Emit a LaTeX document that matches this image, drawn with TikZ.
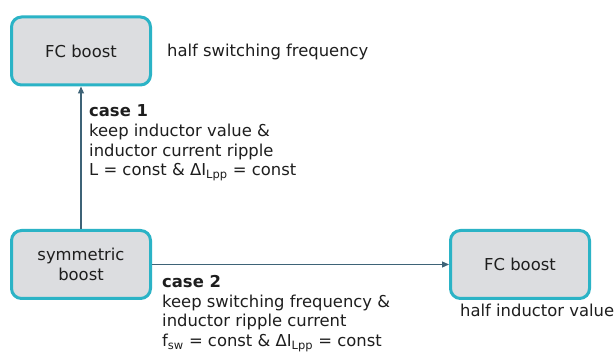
\documentclass[tikz,border=0pt]{standalone}
\usepackage{fontspec}
\setmainfont{DejaVu Sans}
\usetikzlibrary{arrows.meta}
\definecolor{boxedge}{HTML}{2BB3C6}
\definecolor{boxfill}{HTML}{DCDDE0}
\definecolor{linkcol}{HTML}{3E6377}
\definecolor{txt}{HTML}{1E1E1E}
\tikzset{
  blockbox/.style={draw=boxedge, fill=boxfill, line width=3pt, rounded corners=10pt,
    minimum width=139pt, minimum height=68pt, align=center, text=txt,
    font=\fontsize{16.4}{19.7}\selectfont},
  note/.style={anchor=base west, align=left, inner sep=0pt, text=txt,
    font=\fontsize{16.4}{19.7}\selectfont},
  link/.style={draw=linkcol, line width=1.2pt, -{Triangle[length=7pt,width=6pt]}}
}
\begin{document}
\begin{tikzpicture}[x=1pt,y=1pt]
  \useasboundingbox[fill=white] (0,0) rectangle (616,352);
  % converter blocks
  \node[blockbox] (fcfreq) at (81,301) {FC boost};
  \node[blockbox] (sym) at (81,87.5) {symmetric\\boost};
  \node[blockbox] (fcind) at (520,87.5) {FC boost};
  % connectors
  \draw[link] (sym.north) -- (fcfreq.south);
  \draw[link] (sym.east) -- (fcind.west);
  % annotations (multi-line notes are anchored at their last baseline)
  \node[note] (freqnote) at (167,295) {half switching frequency};
  \node[note] (indnote) at (460,35) {half inductor value};
  \node[note] (case1) at (89,176) {\textbf{case 1}\\keep inductor value \&\\inductor current ripple\\L = const \& ΔI\textsubscript{Lpp} = const};
  \node[note] (case2) at (162,5.5) {\textbf{case 2}\\keep switching frequency \&\\inductor ripple current\\f\textsubscript{sw} = const \& ΔI\textsubscript{Lpp} = const};
\end{tikzpicture}
\end{document}
